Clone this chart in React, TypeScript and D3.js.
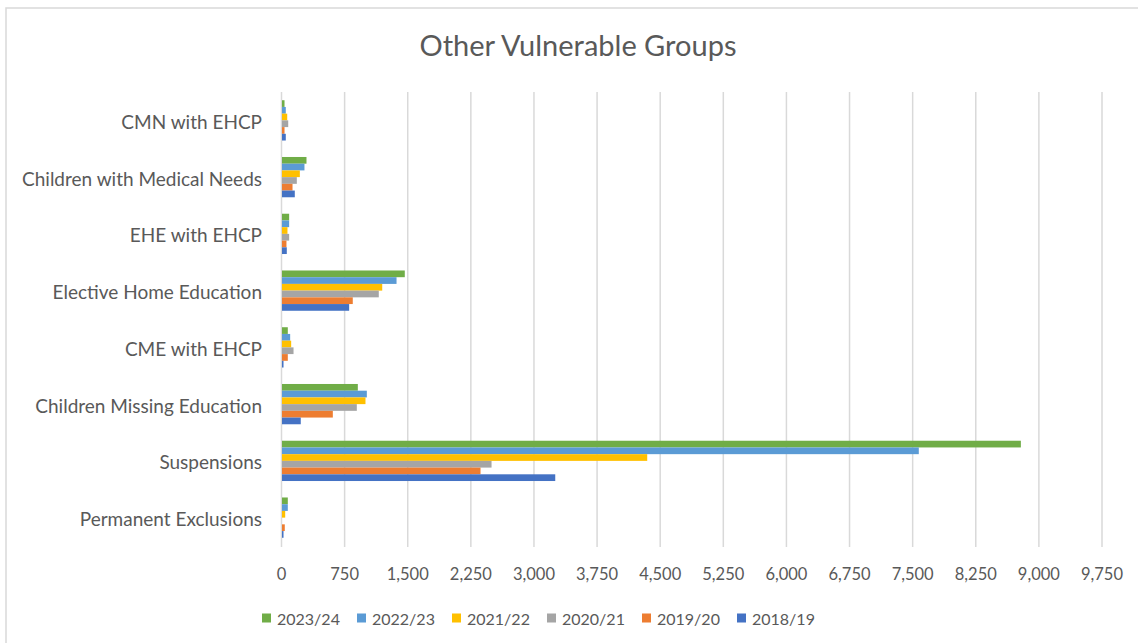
import React from "react";
import * as d3 from "d3";

const categories = [
  "CMN with EHCP",
  "Children with Medical Needs",
  "EHE with EHCP",
  "Elective Home Education",
  "CME with EHCP",
  "Children Missing Education",
  "Suspensions",
  "Permanent Exclusions",
];

const seriesNames = ["2023/24", "2022/23", "2021/22", "2020/21", "2019/20", "2018/19"];
const seriesColors = ["#70AD47", "#5B9BD5", "#FFC000", "#A5A5A5", "#ED7D31", "#4472C4"];

// values per category, in series order above
const v2023_24 = [30, 291, 85, 1459, 69, 901, 8780, 69];
const v2022_23 = [45, 267, 85, 1361, 97, 1008, 7567, 69];
const v2021_22 = [62, 212, 65, 1191, 109, 992, 4340, 38];
const v2020_21 = [74, 176, 85, 1150, 137, 889, 2490, 0];
const v2019_20 = [30, 125, 53, 841, 69, 604, 2359, 33];
const v2018_19 = [45, 152, 57, 798, 18, 223, 3247, 18];

const seriesValues = [v2023_24, v2022_23, v2021_22, v2020_21, v2019_20, v2018_19];
const tickValues = d3.range(0, 9751, 750);

const W = 1138;
const H = 643;
const FONT = "Lato, 'Open Sans', sans-serif";
const TXT = "#595959";

export default function App() {
  const x = d3.scaleLinear().domain([0, 9750]).range([281.5, 1102]);
  const y = d3.scaleBand<string>().domain(categories).range([92, 546]).paddingInner(0.29).paddingOuter(0.145);
  const inner = d3.scaleBand<string>().domain(seriesNames).range([0, y.bandwidth()]);
  const fmt = d3.format(",");

  return (
    <svg width={W} height={H} style={{ position: "absolute", left: 0, top: 0, background: "#fff" }}>
      <rect x={6} y={8} width={W} height={H} fill="#fff" stroke="#d9d9d9" strokeWidth={1.5} />
      <text x={578} y={56} textAnchor="middle" fontFamily={FONT} fontSize={29} fill={TXT}>
        Other Vulnerable Groups
      </text>
      {tickValues.map((t) => (
        <line key={"g" + t} x1={x(t)} x2={x(t)} y1={92} y2={547} stroke="#d9d9d9" strokeWidth={1.5} />
      ))}
      {categories.map((c, ci) => (
        <g key={c}>
          {seriesNames.map((s, si) => (
            <rect
              key={s}
              x={x(0) + 0.5}
              y={(y(c) as number) + (inner(s) as number)}
              width={Math.max(0, x(seriesValues[si][ci]) - x(0))}
              height={inner.bandwidth()}
              fill={seriesColors[si]}
            />
          ))}
          <text
            x={262}
            y={(y(c) as number) + y.bandwidth() / 2 + 1}
            textAnchor="end"
            dominantBaseline="central"
            fontFamily={FONT}
            fontSize={19}
            fill={TXT}
          >
            {c}
          </text>
        </g>
      ))}
      {tickValues.map((t) => (
        <text key={"t" + t} x={x(t)} y={574} textAnchor="middle" dominantBaseline="central" fontFamily={FONT} fontSize={16.5} fill={TXT}>
          {fmt(t)}
        </text>
      ))}
      {seriesNames.map((s, i) => (
        <g key={"l" + s} transform={`translate(${262 + i * 95},618)`}>
          <rect x={0} y={-4.5} width={9} height={9} fill={seriesColors[i]} />
          <text x={15} y={0} dominantBaseline="central" fontFamily={FONT} fontSize={16} fill={TXT}>
            {s}
          </text>
        </g>
      ))}
    </svg>
  );
}
